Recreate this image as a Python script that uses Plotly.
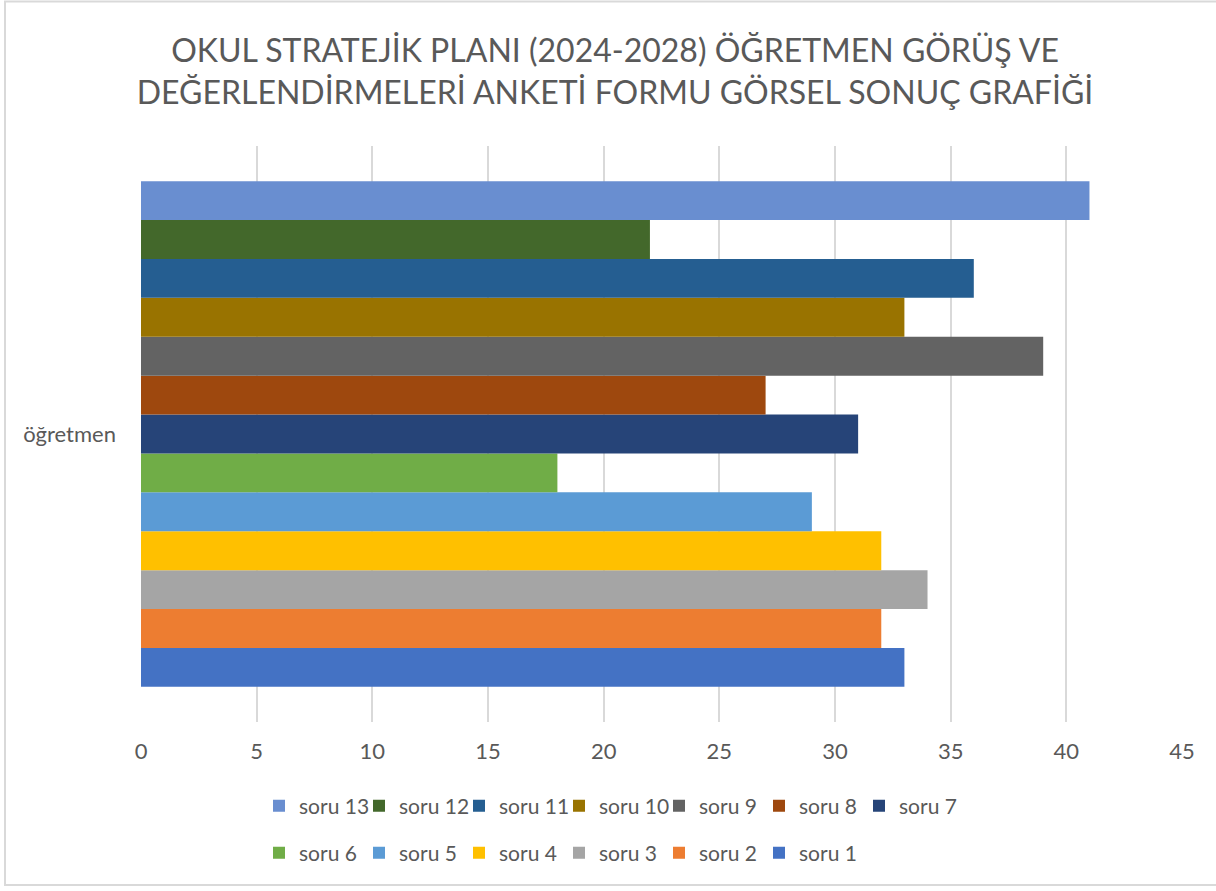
import plotly.graph_objects as go

categories = ["öğretmen"]
series_names = ["soru 1", "soru 2", "soru 3", "soru 4", "soru 5", "soru 6", "soru 7",
                "soru 8", "soru 9", "soru 10", "soru 11", "soru 12", "soru 13"]
series_values = [33, 32, 34, 32, 29, 18, 31, 27, 39, 33, 36, 22, 41]
colors = ["#4472C4", "#ED7D31", "#A5A5A5", "#FFC000", "#5B9BD5", "#70AD47", "#264478",
          "#9E480E", "#636363", "#997300", "#255E91", "#43682B", "#698ED0"]
x_ticks = [0, 5, 10, 15, 20, 25, 30, 35, 40, 45]

W, H = 1216, 891
L, R, T, B = 141, 34, 146, 169
pw, ph = W - L - R, H - T - B

FONT = "Lato"
GRAY = "#595959"

fig = go.Figure()
for i, (name, val, col) in enumerate(zip(series_names, series_values, colors)):
    fig.add_trace(go.Bar(
        y=categories, x=[val], name=name, orientation="h",
        marker=dict(color=col, line=dict(width=0)),
        legend="legend2" if i < 6 else "legend",
    ))

def px2paper_x(px):
    return (px - L) / pw

def px2paper_y(py):
    return 1 - (py - T) / ph

legend_common = dict(
    orientation="h", traceorder="reversed", xanchor="left", yanchor="middle",
    entrywidth=55, entrywidthmode="pixels", font=dict(size=21, color=GRAY),
    bgcolor="rgba(0,0,0,0)", itemwidth=30,
)

fig.update_layout(
    width=W, height=H,
    margin=dict(l=L, r=R, t=T, b=B),
    paper_bgcolor="white", plot_bgcolor="white",
    barmode="group", bargap=0.122, bargroupgap=0,
    font=dict(family=FONT, color=GRAY, size=22),
    title=dict(
        text="OKUL STRATEJİK PLANI (2024-2028) ÖĞRETMEN GÖRÜŞ VE<br>DEĞERLENDİRMELERİ ANKETİ FORMU GÖRSEL SONUÇ GRAFİĞİ",
        x=615 / W, xanchor="center", y=1 - 62 / H, yanchor="middle",
        font=dict(family=FONT, size=32, color=GRAY),
    ),
    xaxis=dict(
        range=[0, 45], tickvals=x_ticks, showgrid=True, gridcolor="#D9D9D9", gridwidth=2,
        zeroline=False, showline=False, ticks="", tickfont=dict(size=22, color=GRAY),
        ticklabelstandoff=14,
    ),
    yaxis=dict(
        showgrid=False, zeroline=False, showline=False, ticks="",
        tickfont=dict(size=22, color=GRAY), ticklabelstandoff=24,
    ),
    legend=dict(x=px2paper_x(259), y=px2paper_y(806), **legend_common),
    legend2=dict(x=px2paper_x(259), y=px2paper_y(853), **legend_common),
    shapes=[dict(
        type="rect", xref="paper", yref="paper",
        x0=px2paper_x(5), x1=px2paper_x(1240), y0=px2paper_y(885), y1=px2paper_y(1.5),
        line=dict(color="#D9D9D9", width=2), fillcolor="rgba(0,0,0,0)", layer="below",
    )],
)

fig.write_html("out.html", config={"displayModeBar": False},
               post_script="document.body.style.margin='0';")
